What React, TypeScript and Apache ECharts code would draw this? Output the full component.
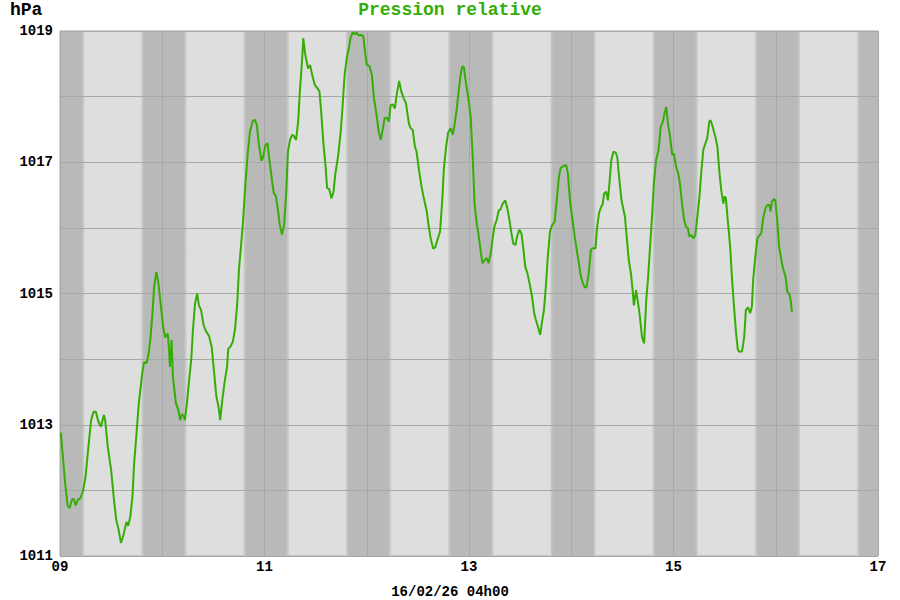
import React, { useEffect, useRef } from "react";
import * as echarts from "echarts";

// Time in hours since 09/02 00h00
const HOURS = [
  0.2, 1.2, 1.8, 2.3, 2.8, 3.2, 3.7, 4.2, 4.8, 5.4, 6.0, 6.6, 7.3, 7.9, 8.4, 9.0, 9.6, 10.3, 10.6, 11.2,
  12.0, 12.6, 13.2, 13.7, 14.3, 14.9, 15.6, 16.0, 16.5, 17.0, 17.4, 17.9, 18.5, 19.2, 19.7, 20.3, 20.7, 21.2, 21.7, 22.1,
  22.6, 23.1, 23.7, 24.2, 24.7, 25.3, 25.6, 25.8, 26.1, 26.2, 26.5, 27.2, 27.8, 28.2, 28.6, 29.0, 29.3, 29.8, 30.3, 30.8,
  31.2, 31.7, 32.2, 32.6, 33.1, 33.7, 34.3, 35.0, 35.6, 36.2, 36.7, 37.2, 37.6, 38.1, 38.6, 39.2, 39.5, 40.0, 40.6, 41.1,
  41.6, 42.0, 42.9, 43.5, 44.1, 44.6, 45.2, 45.7, 46.2, 46.6, 47.3, 47.7, 48.2, 48.7, 49.1, 49.8, 50.2, 50.7, 51.2, 51.6,
  52.1, 52.6, 53.1, 53.5, 54.0, 54.5, 54.9, 55.4, 55.9, 56.3, 56.8, 57.1, 57.6, 58.2, 58.7, 59.2, 59.8, 60.4, 60.9, 61.3,
  61.8, 62.3, 62.7, 63.2, 63.7, 64.2, 64.6, 65.3, 65.9, 66.4, 66.8, 67.3, 67.8, 68.2, 68.7, 69.2, 69.6, 70.1, 70.6, 71.2,
  71.5, 72.0, 72.6, 73.2, 73.7, 74.3, 74.8, 75.3, 75.8, 76.2, 76.7, 77.2, 77.6, 78.1, 78.6, 79.0, 79.6, 80.1, 80.7, 81.2,
  81.9, 82.3, 82.8, 83.3, 83.7, 84.2, 84.8, 85.4, 86.1, 86.5, 87.0, 87.6, 88.1, 88.7, 89.2, 89.7, 90.1, 90.6, 91.1, 91.7,
  92.2, 92.6, 93.1, 93.6, 94.1, 94.4, 94.8, 95.3, 95.8, 96.4, 96.9, 97.3, 97.8, 98.3, 98.8, 99.2, 99.7, 100.2, 100.6, 101.1,
  101.6, 102.0, 102.5, 103.0, 103.4, 103.9, 104.5, 105.0, 105.5, 105.9, 106.4, 106.9, 107.3, 107.8, 108.3, 108.8, 109.2, 109.7, 110.2, 110.8,
  111.3, 111.7, 112.2, 112.7, 113.1, 113.6, 114.1, 114.5, 115.0, 115.5, 116.1, 116.6, 117.1, 117.5, 118.1, 118.8, 119.2, 119.7, 120.3, 120.8,
  121.3, 121.8, 122.2, 122.7, 123.2, 123.6, 124.1, 124.6, 125.0, 125.7, 126.0, 126.5, 126.9, 127.4, 127.7, 128.2, 128.6, 128.9, 129.4, 129.9,
  130.4, 130.8, 131.3, 131.8, 132.6, 133.0, 133.5, 134.0, 134.4, 134.7, 135.2, 135.7, 136.1, 136.6, 137.1, 137.6, 138.0, 138.5, 139.0, 139.4,
  139.9, 140.5, 141.0, 141.5, 141.9, 142.3, 142.7, 143.2, 143.7, 144.1, 144.6, 145.1, 145.5, 146.0, 146.5, 146.9, 147.4, 147.7, 148.2, 148.7,
  149.1, 149.6, 150.1, 150.5, 151.0, 151.5, 151.9, 152.4, 152.7, 153.2, 153.8, 154.3, 154.8, 155.2, 155.7, 156.0, 156.3, 156.8, 157.3, 157.7,
  158.2, 158.7, 159.1, 159.6, 160.1, 160.6, 161.0, 161.5, 162.0, 162.4, 162.7, 163.2, 163.7, 164.1, 164.6, 165.1, 165.6, 166.0, 166.5, 166.8,
  167.1, 167.6, 167.9, 168.4, 168.8, 169.3, 169.8, 170.3, 170.7, 171.2, 171.5, 171.8,
];

// Relative pressure, hPa
const HPA = [
  1012.88, 1012.11, 1011.76, 1011.73, 1011.86, 1011.87, 1011.77, 1011.86, 1011.88, 1011.99, 1012.21, 1012.62, 1013.07, 1013.2, 1013.2, 1013.05, 1012.97, 1013.15, 1013.07, 1012.67,
  1012.31, 1011.9, 1011.55, 1011.42, 1011.2, 1011.32, 1011.52, 1011.46, 1011.6, 1011.9, 1012.41, 1012.82, 1013.33, 1013.73, 1013.95, 1013.94, 1014.04, 1014.29, 1014.7, 1015.1,
  1015.33, 1015.16, 1014.8, 1014.49, 1014.33, 1014.39, 1014.14, 1013.88, 1014.19, 1014.29, 1013.73, 1013.33, 1013.22, 1013.07, 1013.16, 1013.14, 1013.07, 1013.33, 1013.68, 1013.99,
  1014.44, 1014.85, 1015.0, 1014.82, 1014.75, 1014.52, 1014.42, 1014.35, 1014.19, 1013.78, 1013.43, 1013.28, 1013.07, 1013.38, 1013.63, 1013.88, 1014.16, 1014.19, 1014.27, 1014.47,
  1014.85, 1015.36, 1016.04, 1016.65, 1017.16, 1017.47, 1017.62, 1017.65, 1017.57, 1017.31, 1017.02, 1017.08, 1017.26, 1017.29, 1017.06, 1016.7, 1016.53, 1016.48, 1016.25, 1016.04,
  1015.9, 1016.04, 1016.55, 1017.16, 1017.34, 1017.42, 1017.4, 1017.34, 1017.62, 1018.08, 1018.53, 1018.89, 1018.63, 1018.43, 1018.48, 1018.33, 1018.18, 1018.13, 1018.08, 1017.77,
  1017.31, 1016.96, 1016.61, 1016.59, 1016.45, 1016.55, 1016.81, 1017.11, 1017.47, 1017.92, 1018.33, 1018.58, 1018.74, 1018.89, 1018.98, 1018.95, 1018.98, 1018.93, 1018.94, 1018.92,
  1018.74, 1018.48, 1018.47, 1018.33, 1017.97, 1017.72, 1017.47, 1017.34, 1017.52, 1017.67, 1017.68, 1017.62, 1017.87, 1017.88, 1017.82, 1018.02, 1018.24, 1018.08, 1017.97, 1017.9,
  1017.59, 1017.52, 1017.49, 1017.24, 1017.16, 1016.91, 1016.65, 1016.45, 1016.25, 1016.04, 1015.84, 1015.68, 1015.71, 1015.84, 1015.94, 1016.4, 1016.9, 1017.22, 1017.45, 1017.52,
  1017.42, 1017.57, 1017.8, 1018.1, 1018.36, 1018.46, 1018.45, 1018.2, 1018.0, 1017.69, 1017.03, 1016.37, 1016.07, 1015.87, 1015.61, 1015.46, 1015.51, 1015.54, 1015.46, 1015.61,
  1015.87, 1016.03, 1016.12, 1016.27, 1016.28, 1016.37, 1016.42, 1016.3, 1016.12, 1015.94, 1015.76, 1015.74, 1015.87, 1015.97, 1015.92, 1015.66, 1015.41, 1015.31, 1015.16, 1014.95,
  1014.7, 1014.6, 1014.49, 1014.37, 1014.55, 1014.75, 1015.16, 1015.56, 1015.94, 1016.04, 1016.09, 1016.42, 1016.78, 1016.91, 1016.94, 1016.96, 1016.83, 1016.42, 1016.12, 1015.87,
  1015.66, 1015.46, 1015.28, 1015.16, 1015.09, 1015.1, 1015.31, 1015.66, 1015.69, 1015.69, 1015.97, 1016.22, 1016.3, 1016.37, 1016.52, 1016.55, 1016.42, 1016.63, 1017.03, 1017.16,
  1017.15, 1017.08, 1016.73, 1016.42, 1016.17, 1015.87, 1015.51, 1015.31, 1015.05, 1014.82, 1015.05, 1014.85, 1014.65, 1014.34, 1014.24, 1014.9, 1015.21, 1015.71, 1016.22, 1016.68,
  1017.03, 1017.19, 1017.54, 1017.62, 1017.75, 1017.84, 1017.59, 1017.39, 1017.11, 1017.13, 1016.93, 1016.83, 1016.68, 1016.37, 1016.12, 1016.02, 1015.99, 1015.87, 1015.89, 1015.84,
  1015.89, 1016.17, 1016.48, 1016.83, 1017.19, 1017.29, 1017.36, 1017.62, 1017.64, 1017.54, 1017.39, 1017.24, 1016.83, 1016.58, 1016.37, 1016.48, 1016.45, 1016.07, 1015.71, 1015.26,
  1014.8, 1014.39, 1014.14, 1014.11, 1014.12, 1014.34, 1014.75, 1014.79, 1014.7, 1014.8, 1015.21, 1015.56, 1015.84, 1015.88, 1015.92, 1016.17, 1016.3, 1016.35, 1016.35, 1016.25,
  1016.4, 1016.44, 1016.42, 1016.07, 1015.71, 1015.51, 1015.36, 1015.26, 1015.03, 1014.99, 1014.9, 1014.72,
];

// Night bands (hours since 09/02 00h00)
const NIGHT_STARTS = [0, 19.1, 43.1, 67.1, 91.1, 115.1, 139.1, 163.1, 187.1];
const NIGHT_ENDS = [5.7, 29.7, 53.7, 77.7, 101.7, 125.7, 149.7, 173.7, 192];

const X_TICK_LABELS = ["09", "11", "13", "15", "17"];
const Y_TICK_LABELS = ["1011", "1013", "1015", "1017", "1019"];

const TITLE = "Pression relative";
const UNIT = "hPa";
const FOOTER = "16/02/26 04h00";

const X_MIN = 0;
const X_MAX = 192;
const Y_MIN = 1011;
const Y_MAX = 1019;

const FONT = "'Liberation Mono', 'Courier New', monospace";
const GREEN = "#34ae06";

export default function App() {
  const ref = useRef<HTMLDivElement | null>(null);

  useEffect(() => {
    if (!ref.current) return;
    const chart = echarts.init(ref.current, null, { renderer: "svg" });

    const bandData = NIGHT_STARTS.map((s, i) => [s, NIGHT_ENDS[i], Y_MIN]);
    const lineData = HOURS.map((h, i) => [h, HPA[i]]);

    const option: any = {
      animation: false,
      backgroundColor: "#ffffff",
      grid: {
        left: 60,
        top: 31,
        width: 818,
        height: 525,
        show: true,
        backgroundColor: "#dedede",
        borderColor: "#a8a8a8",
        borderWidth: 1,
      },
      xAxis: {
        type: "value",
        min: X_MIN,
        max: X_MAX,
        interval: 24,
        z: 3,
        axisLine: { show: false },
        axisTick: { show: false },
        splitLine: { show: true, lineStyle: { color: "#a8a8a8", width: 1 } },
        axisLabel: {
          margin: 4,
          color: "#000",
          fontFamily: FONT,
          fontWeight: "bold",
          fontSize: 14,
          formatter: (v: number) => {
            const i = (v - X_MIN) / 48;
            return Number.isInteger(i) ? X_TICK_LABELS[i] ?? "" : "";
          },
        },
      },
      yAxis: {
        type: "value",
        min: Y_MIN,
        max: Y_MAX,
        interval: 1,
        z: 3,
        axisLine: { show: false },
        axisTick: { show: false },
        splitLine: { show: true, lineStyle: { color: "#a8a8a8", width: 1 } },
        axisLabel: {
          margin: 7,
          color: "#000",
          fontFamily: FONT,
          fontWeight: "bold",
          fontSize: 14,
          formatter: (v: number) => {
            const i = (v - Y_MIN) / 2;
            return Number.isInteger(i) ? Y_TICK_LABELS[i] ?? "" : "";
          },
        },
      },
      series: [
        {
          type: "custom",
          z: 1,
          silent: true,
          encode: { x: [0, 1], y: 2 },
          data: bandData,
          renderItem: (params: any, api: any) => {
            const s = api.value(0);
            const e = api.value(1);
            const p0 = api.coord([s, Y_MAX]);
            const p1 = api.coord([e, Y_MIN]);
            const w = p1[0] - p0[0];
            const f = Math.min(0.3, 3 / Math.max(w, 1));
            const dark = "#b9b9b9";
            const soft = "#cdcdcd";
            const stops = [
              { offset: 0, color: s <= X_MIN ? dark : soft },
              { offset: f, color: dark },
              { offset: 1 - f, color: dark },
              { offset: 1, color: e >= X_MAX ? dark : soft },
            ];
            return {
              type: "rect",
              shape: { x: p0[0], y: p0[1], width: w, height: p1[1] - p0[1] },
              style: {
                fill: { type: "linear", x: 0, y: 0, x2: 1, y2: 0, colorStops: stops },
              },
            };
          },
        },
        {
          type: "line",
          z: 5,
          data: lineData,
          showSymbol: false,
          symbol: "none",
          lineStyle: { color: GREEN, width: 2 },
          itemStyle: { color: GREEN },
        },
      ],
      graphic: [
        {
          type: "text",
          left: "center",
          top: 1,
          style: {
            text: TITLE,
            fill: GREEN,
            font: `bold 18px ${FONT}`,
          },
        },
        {
          type: "text",
          left: 10,
          top: 1,
          style: {
            text: UNIT,
            fill: "#000",
            font: `bold 18px ${FONT}`,
          },
        },
        {
          type: "text",
          left: "center",
          top: 585,
          style: {
            text: FOOTER,
            fill: "#000",
            font: `bold 14px ${FONT}`,
          },
        },
      ],
    };

    chart.setOption(option);
    return () => {
      chart.dispose();
    };
  }, []);

  return (
    <div
      ref={ref}
      style={{ position: "fixed", left: 0, top: 0, width: 900, height: 600, background: "#fff" }}
    />
  );
}
